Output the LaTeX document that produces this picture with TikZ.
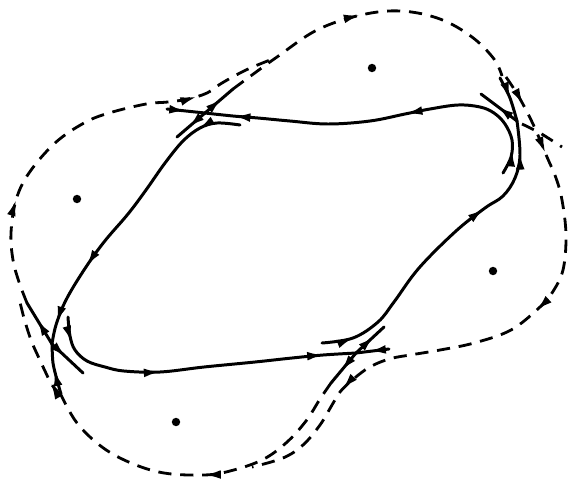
\documentclass[tikz,border=0pt]{standalone}
\usepackage{tikz}
\usetikzlibrary{arrows.meta, decorations.markings}

\tikzset{
  sepline/.style={line width=1.7pt, line cap=round},
  sepdash/.style={line width=1.6pt, dash pattern=on 7.5pt off 5pt},
  flow/.style={postaction={decorate, decoration={markings,
      mark=at position #1 with {\arrow{Latex[length=9.5pt, width=5pt]}}}}}
}

\begin{document}
\begin{tikzpicture}[x=0.02cm, y=-0.02cm]
  \useasboundingbox (0,0) rectangle (572,481);

  % --- saddles and centres ---
  \coordinate (S1) at (205,113);
  \coordinate (S2) at (517,121);
  \coordinate (S3) at (356,353);
  \coordinate (S4) at (52,344);
  \coordinate (Ctop) at (372,68);
  \coordinate (Cleft) at (77,199);
  \coordinate (Cright) at (493,271);
  \coordinate (Cbottom) at (176,422);
  \foreach \c in {Ctop, Cleft, Cright, Cbottom}
    \fill (\c) circle (2.4pt);

  % --- inner separatrices (solid) ---
  \draw[sepline, flow=0.07, flow=0.44, flow=0.92] plot[smooth, tension=0.6] coordinates {
    (503,173) (511,157) (512,140) (505,124) (494,113) (480,107) (458,105)
    (430,109) (405,114) (370,121) (328,124) (290,121) (258,118) (233,116) (205,113)};
  \draw[sepline, flow=0.14, flow=0.72, flow=0.93] plot[smooth, tension=0.6] coordinates {
    (240,125) (217,123) (200,128) (183,141) (165,163) (146,190) (128,214)
    (104,242) (84,270) (66,300) (56,325) (52,344)};
  \draw[sepline, flow=0.08, flow=0.39, flow=0.9] plot[smooth, tension=0.6] coordinates {
    (68,317) (70,336) (75,350) (87,361) (105,367) (124,371) (160,372)
    (204,367) (255,362) (292,358) (323,355) (356,353)};
  \draw[sepline, flow=0.1, flow=0.68, flow=0.9] plot[smooth, tension=0.6] coordinates {
    (322,343) (353,338) (378,322) (394,302) (419,268) (456,231) (485,208)
    (503,196) (515,178) (520,155) (517,121)};

  % --- short branches at the saddles ---
  \draw[sepline, flow=0.5] (167,109) -- (S1);
  \draw[sepline, flow=0.6] (S1) -- (233,89);
  \draw[sepline, flow=0.6] (S1) -- (177,137);
  \draw[sepline, flow=0.5] plot[smooth] coordinates {(500,78) (510,98) (517,121)};
  \draw[sepline, flow=0.55] (S2) -- (481,94);
  \draw[sepline, flow=0.6] (389,349) -- (S3);
  \draw[sepline, flow=0.65] (S3) -- (384,327);
  \draw[sepline, flow=0.6] (S3) -- (331,383);
  \draw[sepline, flow=0.6] (S4) -- (27,303);
  \draw[sepline, flow=0.45] (S4) -- (83,373);
  \draw[sepline, flow=0.5] plot[smooth] coordinates {(61,394) (57,380) (53,363) (52,344)};

  % --- outer separatrices (dashed) ---
  % top lobe
  \draw[sepdash, flow=0.47] plot[smooth, tension=0.6] coordinates {
    (233,89) (252,75) (277,57) (317,30) (361,15) (401,11) (440,19)
    (472,37) (494,59) (502,76)};
  % right lobe
  \draw[sepdash, flow=0.055, flow=0.145, flow=0.43, flow=0.79] plot[smooth, tension=0.6] coordinates {
    (506,77) (516,92) (525,108) (533,124) (540,140) (547,157) (556,178)
    (562,200) (566,235) (563,270) (552,293) (540,307) (511,330) (474,343)
    (440,350) (410,355) (393,358) (378,363) (365,370) (350,382) (340,392)
    (332,405) (320,425) (303,445) (283,458) (252,467)};
  \draw[sepdash] plot[smooth] coordinates {(522,124) (540,133) (562,147)};
  % bottom lobe
  \draw[sepdash, flow=0.485] plot[smooth, tension=0.6] coordinates {
    (331,383) (320,399) (306,421) (286,443) (262,460) (230,471) (204,475)
    (164,473) (131,463) (102,447) (77,423) (61,395)};
  \draw[sepdash, flow=0.15] plot[smooth, tension=0.6] coordinates {
    (61,395) (52,385) (45,371) (38,356) (31,340) (24,318) (19,298)};
  % left lobe
  \draw[sepdash, flow=0.26, flow=0.8] plot[smooth, tension=0.6] coordinates {
    (27,303) (19,282) (13,260) (11,233) (16,200) (29,173) (55,143) (84,123)
    (109,113) (146,104) (168,102) (188,99) (207,93) (222,83) (246,70) (270,60)};
\end{tikzpicture}
\end{document}
